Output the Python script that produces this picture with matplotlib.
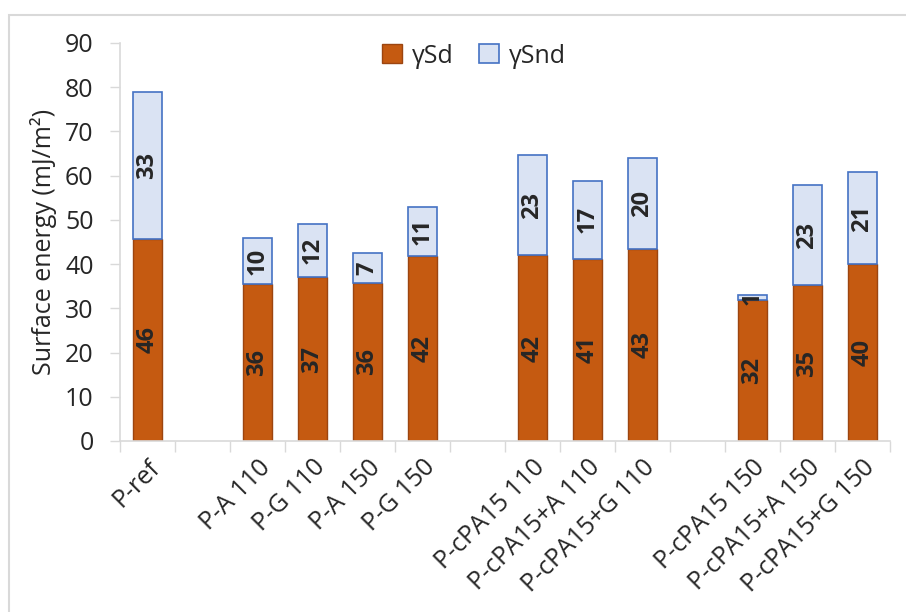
import matplotlib.pyplot as plt
from matplotlib.patches import Rectangle
import numpy as np

# categories (empty strings are the gaps between groups)
categories = ["P-ref", "", "P-A 110", "P-G 110", "P-A 150", "P-G 150", "",
              "P-cPA15 110", "P-cPA15+A 110", "P-cPA15+G 110", "",
              "P-cPA15 150", "P-cPA15+A 150", "P-cPA15+G 150"]
gamma_d = [45.7, np.nan, 35.5, 37.0, 35.8, 41.8, np.nan,
           42.0, 41.2, 43.5, np.nan, 31.8, 35.2, 40.0]
gamma_nd = [33.2, np.nan, 10.3, 12.0, 6.7, 11.2, np.nan,
            22.6, 17.6, 20.5, np.nan, 1.2, 22.6, 20.8]
labels_d = ["46", "", "36", "37", "36", "42", "", "42", "41", "43", "", "32", "35", "40"]
labels_nd = ["33", "", "10", "12", "7", "11", "", "23", "17", "20", "", "1", "23", "21"]

plt.rcParams['font.family'] = ['Open Sans', 'DejaVu Sans']

fig = plt.figure(figsize=(9.06, 6.12), dpi=100)
ax = fig.add_axes([120 / 906, 1 - 441 / 612, 770 / 906, 398 / 612])

x = np.arange(len(categories))
d = np.array(gamma_d)
nd = np.array(gamma_nd)

ax.bar(x, d, width=0.53, color='#C55A11', edgecolor='#9C4510', linewidth=1.0, label='γSd')
ax.bar(x, nd, width=0.53, bottom=d, color='#DAE3F3', edgecolor='#4472C4', linewidth=1.2, label='γSnd')

for i in range(len(categories)):
    if labels_d[i]:
        ax.text(x[i], d[i] / 2, labels_d[i], rotation=90, ha='center', va='center',
                fontsize=17, fontweight='bold', color='#262626')
        ax.text(x[i], d[i] + nd[i] / 2, labels_nd[i], rotation=90, ha='center', va='center',
                fontsize=17, fontweight='bold', color='#262626')

ax.set_xlim(-0.5, len(categories) - 0.5)
ax.set_ylim(0, 90)
ax.set_yticks(range(0, 91, 10))
ax.tick_params(axis='y', labelsize=18, color='#D9D9D9', length=7, width=1, labelcolor='#262626', pad=12)

ax.set_xticks(x)
ax.set_xticklabels(categories, rotation=45, ha='right', rotation_mode='anchor',
                   fontsize=18, color='#262626')
ax.tick_params(axis='x', length=0, pad=10)
ax.set_xticks(np.arange(len(categories) + 1) - 0.5, minor=True)
ax.tick_params(axis='x', which='minor', length=8, color='#D9D9D9', width=1)

for s in ['top', 'right']:
    ax.spines[s].set_visible(False)
for s in ['left', 'bottom']:
    ax.spines[s].set_color('#D9D9D9')
    ax.spines[s].set_linewidth(1.2)

ax.set_ylabel('Surface energy (mJ/m²)', fontsize=18, color='#262626', labelpad=6)

ax.legend(loc='upper center', bbox_to_anchor=(0.46, 1.055), ncol=2, frameon=False,
          fontsize=18, handlelength=0.8, handleheight=0.8, handletextpad=0.4,
          columnspacing=1.0, labelcolor='#262626')

# chart area border
fig.patches.append(Rectangle((9 / 906, -0.1), 1.2, 1 - 15 / 612 + 0.1, transform=fig.transFigure,
                             fill=False, edgecolor='#D9D9D9', linewidth=1.5, clip_on=False))

fig.savefig('out.png', dpi=100)
